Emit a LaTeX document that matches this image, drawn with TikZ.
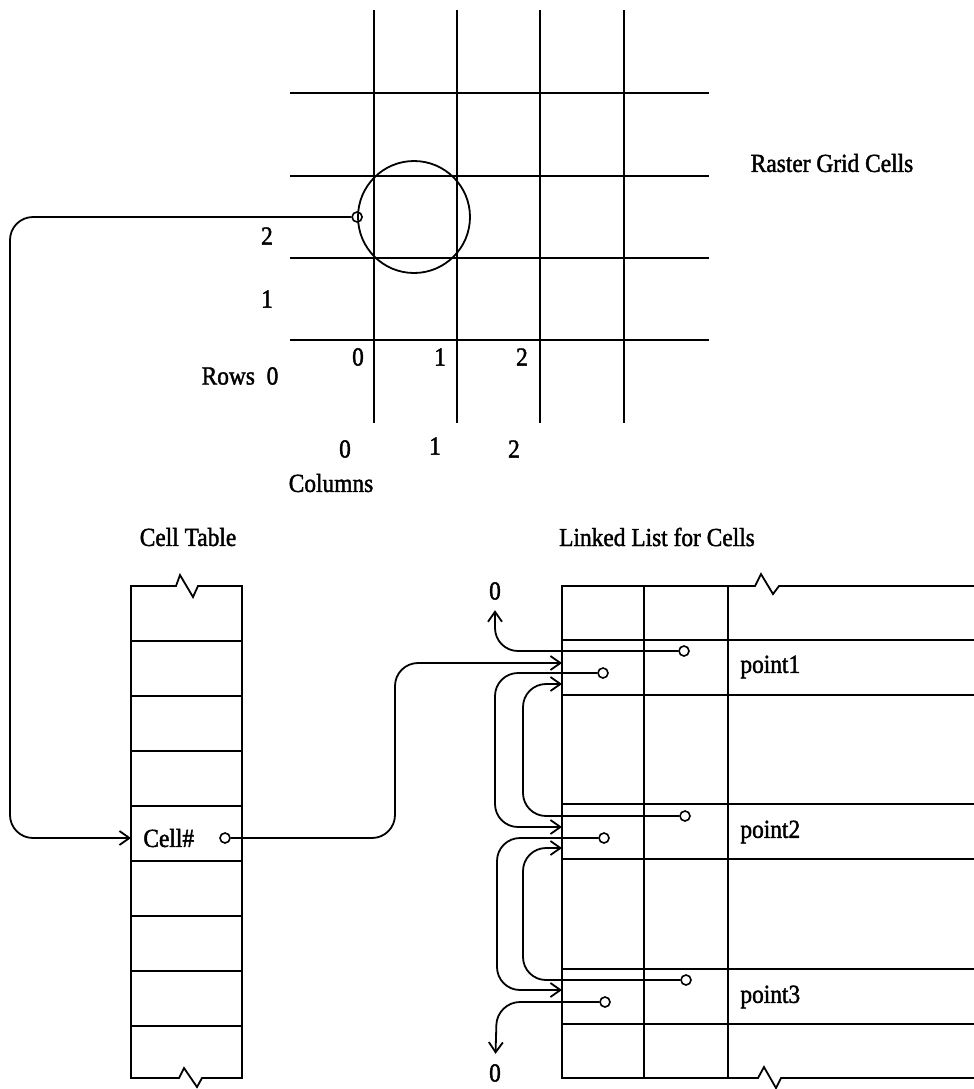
\documentclass[tikz,border=0pt]{standalone}
\usepackage{fontspec}
\setmainfont{Liberation Serif}[FakeBold=1.6,FakeStretch=0.9]
\usetikzlibrary{arrows.meta}
\begin{document}
\begin{tikzpicture}[x=0.5pt,y=-0.5pt,
  ln/.style={line width=0.9pt},
  arr/.style={ln,-{Straight Barb[length=5pt,width=7pt,line width=0.9pt]},rounded corners=11.5pt},
  ptr/.style={circle,draw,line width=0.8pt,inner sep=0pt,minimum size=5pt},
  lbl/.style={font=\fontsize{13}{15}\selectfont,inner sep=1pt},
  zero/.style={lbl,inner ysep=5pt}]
\useasboundingbox (0,0) rectangle (974,1089);

% raster grid
\foreach \y in {93,176,258,340} \draw[ln] (290,\y) -- (709,\y);
\foreach \x in {374,457,540,624} \draw[ln] (\x,10) -- (\x,423);
\node[circle,draw,ln,minimum size=56pt,inner sep=0pt] (cir) at (414,217) {};
\node[ptr] (gp) at (cir.west) {};

\node[lbl] (r2) at (267,236) {2};
\node[lbl] (r1) at (267,299) {1};
\node[lbl] (rows) at (240,376) {Rows\ \ 0};
\node[lbl] (g0) at (358,357) {0};
\node[lbl] (g1) at (440,357) {1};
\node[lbl] (g2) at (522,357) {2};
\node[lbl] (c0) at (345,449) {0};
\node[lbl] (c1) at (435,446) {1};
\node[lbl] (c2) at (514,449) {2};
\node[lbl] (cols) at (331,483) {Columns};
\node[lbl] (rgc) at (832,163) {Raster\ Grid\ Cells};

% cell table
\node[lbl] (ctt) at (188,537) {Cell\ Table};
\draw[ln] (131,1078) -- (131,586) -- (176,586) -- (180,575) -- (193,597) -- (198,586) -- (242,586)
  -- (242,1078) -- (202,1078) -- (197,1087) -- (184,1068) -- (179,1078) -- cycle;
\foreach \y in {641,696,751,806,861,916,971,1026} \draw[ln] (131,\y) -- (242,\y);
\node[lbl,anchor=west] (cell) at (141,838) {Cell\#};
\node[ptr] (cp) at (225,838) {};
\coordinate (ctin) at (131,838);

% linked list
\node[lbl] (llt) at (657,537) {Linked\ List\ for\ Cells};
\draw[ln] (974,586) -- (779,586) -- (773,594) -- (761,574) -- (755,586) -- (562,586)
  -- (562,1078) -- (758,1078) -- (764,1067) -- (776,1088) -- (781,1078) -- (974,1078);
\foreach \y in {640,695,804,859,969,1024} \draw[ln] (562,\y) -- (974,\y);
\draw[ln] (644,586) -- (644,1078);
\draw[ln] (728,586) -- (728,1078);
\node[lbl,anchor=west] (pt1) at (738,667) {point1};
\node[lbl,anchor=west] (pt2) at (738,832) {point2};
\node[lbl,anchor=west] (pt3) at (738,997) {point3};

\coordinate (in1) at (562,663);
\coordinate (in1b) at (562,684);
\coordinate (in2a) at (562,827);
\coordinate (in2b) at (562,848);
\coordinate (in3a) at (562,990);

\node[zero] (z1) at (495,591) {0};
\node[zero] (z2) at (495,1073) {0};

\node[ptr] (p1u) at (684,651) {};
\node[ptr] (p1n) at (603,673) {};
\node[ptr] (p2p) at (685,816) {};
\node[ptr] (p2n) at (604,838) {};
\node[ptr] (p3p) at (686,980) {};
\node[ptr] (p3n) at (605,1002) {};

% connectors
\draw[arr] (gp) -- (10,217) -- (10,838) -- (ctin);
\draw[arr] (cp) -- (395,838) -- (395,663) -- (in1);
\draw[arr] (p1u) -- (495,651) -- (z1);
\draw[arr] (p1n) -- (495,673) -- (495,827) -- (in2a);
\draw[arr] (p2p) -- (523,816) -- (523,684) -- (in1b);
\draw[arr] (p2n) -- (497,838) -- (497,990) -- (in3a);
\draw[arr] (p3p) -- (523,980) -- (523,848) -- (in2b);
\draw[arr] (p3n) -- (497,1002) -- (z2);
\end{tikzpicture}
\end{document}
